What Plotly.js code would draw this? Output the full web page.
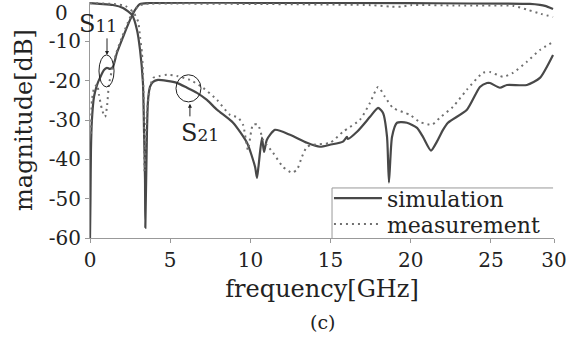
<!DOCTYPE html>
<html>
<head>
<meta charset="utf-8">
<script src="https://cdn.plot.ly/plotly-3.0.1.min.js"></script>
<style>html,body{margin:0;padding:0;background:#fff;}#chart{width:571px;height:345px;}</style>
</head>
<body>
<div id="chart"></div>
<script>
// Frequency axis positions (GHz, as drawn) and magnitudes (dB)
var simRiseX = [0,0.03,0.06,0.12,0.25,0.44,0.62,0.87,1.06,1.25,1.43,1.68,2.06,2.49,2.81,3.12,3.74,10,20,27.43,28.05,28.37,28.87];
var simRiseY = [-60,-50,-37.6,-30,-24.1,-21.07,-19.3,-17.3,-16.75,-17.0,-16.5,-12.9,-8.9,-4.6,-2.0,-0.5,-0.25,-0.2,-0.3,-0.5,-0.75,-1.0,-1.78];

var simFallX = [0,0.62,1.43,2.06,2.62,2.93,3.12,3.30,3.37,3.43,3.45,3.55,3.62,3.74,3.93,4.24,4.80,5.42,6.05,6.67,7.29,7.92,8.92,9.79,10.29,10.41,10.5,10.72,10.85,11.03,11.53,12.47,13.53,14.34,14.96,15.77,16.02,16.08,16.65,17.46,17.96,18.27,18.52,18.64,18.83,19.14,19.76,20.39,20.76,21.26,21.63,22.01,22.32,23.50,24.31,24.75,24.94,25.56,26.0,27.24,28.05,28.87];
var simFallY = [-0.3,-0.5,-0.76,-1.5,-3.3,-7.1,-12.2,-20.5,-33.25,-45,-57.4,-33.25,-24.9,-21.6,-20.3,-19.8,-20.05,-20.56,-21.8,-23.1,-24.9,-27.4,-30.7,-35.8,-41.9,-44.7,-42,-34.5,-38.1,-35,-32.5,-33.75,-35.8,-36.8,-36.3,-35.5,-34.3,-34.8,-33.0,-29.2,-26.9,-28.2,-34.3,-45.9,-34.3,-30.7,-30.7,-32.0,-34.3,-37.8,-35.5,-32.5,-30.7,-27.4,-21.6,-20.6,-20.6,-21.8,-21.1,-21.1,-19.3,-13.45];

var measRiseX = [0.06,0.12,0.25,0.44,0.56,0.75,0.94,1.06,1.18,1.37,1.62,2.0,2.37,2.68,2.99,3.43,5,10,13.5,17.5,18.8,19.4,20,23,26.4,27.3,28.1,28.87];
var measRiseY = [-33.5,-25,-22,-21,-23.6,-27.4,-29.2,-26.6,-21,-17.3,-13.2,-8.9,-5.1,-2.5,-1.0,-0.5,-0.4,-0.5,-0.6,-0.8,-1.2,-1.2,-0.8,-0.9,-1.0,-2.0,-3.0,-3.8];

var measFallX = [0,1.5,2.2,2.68,3.0,3.12,3.24,3.30,3.37,3.40,3.45,3.55,3.74,3.93,4.36,4.80,5.42,6.23,7.04,7.92,8.73,9.23,9.54,9.85,10.16,10.47,10.79,11.41,12.03,12.59,12.91,13.22,13.53,13.90,14.96,15.77,16.83,17.46,17.96,18.39,18.89,19.95,20.57,21.32,21.82,22.63,23.50,24.50,24.94,25.75,26.37,27.24,28.05,28.87];
var measFallY = [-0.3,-0.5,-1.0,-2.5,-5,-8.9,-13,-18,-30,-43,-38,-28,-22,-19.3,-18.8,-18.5,-18.8,-19.8,-21.8,-24.9,-28.7,-29.4,-31.2,-37.6,-31.2,-31.2,-35,-38.3,-41.9,-43.4,-42.6,-39.3,-36.8,-36.3,-35.8,-33.0,-29.95,-25.6,-21.6,-24.1,-26.9,-28.7,-30.5,-31.2,-29.4,-26.65,-22.3,-18.0,-17.8,-19.0,-18.0,-15.2,-12.2,-10.15];

var xTickVals = [0,5,10,15,20,25,28.93];
var xTickText = ['0','5','10','15','20','25','30'];
var yTickVals = [-60,-50,-40,-30,-20,-10];
var yTickText = ['-60','-50','-40','-30','-20','-10'];
var legendNames = ['simulation','measurement'];

var FONT = 'DejaVu Serif, serif';
var simLine = {color:'#484848', width:2.2, shape:'spline', smoothing:0.6};
var measLine = {color:'#707070', width:2, dash:'2px,4px', shape:'spline', smoothing:0.6};

var traces = [
  {x:simRiseX, y:simRiseY, mode:'lines', line:simLine, name:legendNames[0], showlegend:true, legend:'legend'},
  {x:simFallX, y:simFallY, mode:'lines', line:simLine, name:legendNames[0], showlegend:false},
  {x:measRiseX, y:measRiseY, mode:'lines', line:measLine, name:legendNames[1], showlegend:true, legend:'legend2'},
  {x:measFallX, y:measFallY, mode:'lines', line:measLine, name:legendNames[1], showlegend:false}
];

var layout = {
  width:571, height:345,
  margin:{l:90, r:17, t:2, b:107},
  paper_bgcolor:'#fff', plot_bgcolor:'#fff',
  font:{family:FONT, color:'#222'},
  xaxis:{range:[0,28.93], tickvals:xTickVals, ticktext:xTickText, showgrid:false, zeroline:false,
    showline:true, linecolor:'#999', linewidth:1, ticks:'outside', ticklen:4, tickcolor:'#999',
    tickfont:{family:FONT, size:20, color:'#222'},
    title:{text:'frequency[GHz]', font:{family:FONT, size:24, color:'#222'}, standoff:9}},
  yaxis:{range:[-60,0], tickvals:yTickVals, ticktext:yTickText, showgrid:false, zeroline:false,
    showline:true, linecolor:'#999', linewidth:1, ticks:'outside', ticklen:4, tickcolor:'#999',
    tickfont:{family:FONT, size:20, color:'#222'},
    title:{text:'magnitude[dB]', font:{family:FONT, size:24, color:'#222'}, standoff:9}},
  legend:{x:0.515, xanchor:'left', y:0.168, yanchor:'middle', bgcolor:'rgba(0,0,0,0)', borderwidth:0,
    font:{family:FONT, size:22, color:'#222'}, itemwidth:48},
  legend2:{x:0.515, xanchor:'left', y:0.058, yanchor:'middle', bgcolor:'rgba(0,0,0,0)', borderwidth:0,
    font:{family:FONT, size:22, color:'#222'}, itemwidth:48},
  shapes:[
    {type:'line', xref:'paper', yref:'paper', x0:0.5216, x1:0.998, y0:0.212, y1:0.212, line:{color:'#999', width:1}},
    {type:'line', xref:'paper', yref:'paper', x0:0.5216, x1:0.5216, y0:0, y1:0.212, line:{color:'#999', width:1}},
    {type:'circle', xref:'x', yref:'y', x0:0.56, x1:1.50, y0:-21.6, y1:-13.45, line:{color:'#222', width:1}},
    {type:'circle', xref:'x', yref:'y', x0:5.36, x1:6.92, y0:-25.4, y1:-18.5, line:{color:'#222', width:1}}
  ],
  annotations:[
    {xref:'paper', yref:'y', x:-0.0625, y:-2.8, text:'0', showarrow:false, xanchor:'center', yanchor:'middle', font:{family:FONT, size:20, color:'#222'}},
    {xref:'x', yref:'y', x:0.5, y:-5.5, text:'S<span style="font-size:17px">11</span>', showarrow:false, xanchor:'center', yanchor:'middle', font:{family:FONT, size:24, color:'#222'}},
    {xref:'x', yref:'y', x:6.86, y:-33.2, text:'S<span style="font-size:17px">21</span>', showarrow:false, xanchor:'center', yanchor:'middle', font:{family:FONT, size:24, color:'#222'}},
    {xref:'x', yref:'y', x:1.06, y:-13.45, ax:0, ay:-18, text:'', showarrow:true, arrowhead:2, arrowsize:0.8, arrowwidth:1, arrowcolor:'#222'},
    {xref:'x', yref:'y', x:6.23, y:-25.9, ax:0, ay:14, text:'', showarrow:true, arrowhead:2, arrowsize:0.8, arrowwidth:1, arrowcolor:'#222'},
    {xref:'paper', yref:'paper', x:0.50, y:-0.355, text:'(c)', showarrow:false, xanchor:'center', yanchor:'middle', font:{family:FONT, size:19, color:'#222'}}
  ]
};

Plotly.newPlot('chart', traces, layout, {staticPlot:true, displayModeBar:false});
</script>
</body>
</html>
